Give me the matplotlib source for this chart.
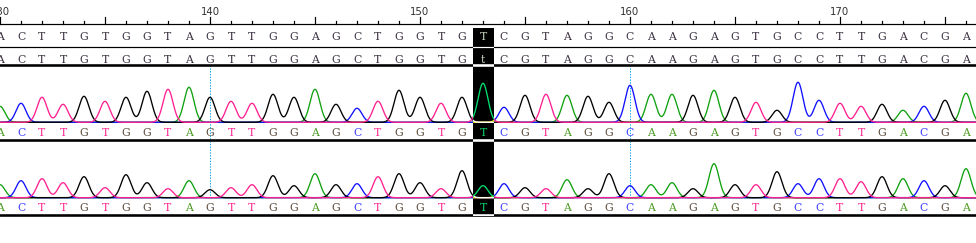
import numpy as np
import matplotlib
matplotlib.use("Agg")
import matplotlib.pyplot as plt
from matplotlib.patches import Rectangle
from matplotlib.colors import to_rgb

# ---- sequence data -------------------------------------------------------
positions = list(range(130, 177))
reference_bases = list("ACTTGTGGTAGTTGGAGCTGGTGTCGTAGGCAAGAGTGCCTTGACGA")
sample_bases = list("ACTTGTGGTAGTTGGAGCTGGTGtCGTAGGCAAGAGTGCCTTGACGA")
ruler_labels = [130, 140, 150, 160, 170]
marked_positions = [140, 160]
highlight_position = 153

# peak heights (signal units) of the called base at each position
trace1_heights = [16, 19, 25, 18, 26, 21, 25, 31, 33, 35, 25, 21, 19, 28, 25, 33,
                  18, 14, 21, 32, 25, 19, 25, 39, 15, 27, 28, 27, 26, 20, 37, 28,
                  28, 27, 32, 25, 20, 12, 40, 22, 19, 16, 18, 12, 16, 22, 29]
trace2_heights = [13, 17, 19, 15, 21, 10, 23, 15, 9, 17, 8, 10, 13, 22, 12, 24,
                  13, 14, 21, 24, 15, 9, 27, 12, 14, 10, 9, 18, 9, 24, 12, 13,
                  15, 9, 34, 13, 13, 26, 14, 19, 19, 16, 21, 19, 17, 12, 29]

base_colors = {"A": "#10a010", "C": "#1010ff", "G": "#000000", "T": "#ff2090"}
letter_colors = {"A": "#4a9a20", "C": "#3a3aff", "G": "#5a4a3a", "T": "#ff2a95"}
channel_order = ["A", "C", "G", "T"]

PX_PER_BASE = 21
W, H = 976, 243

fig = plt.figure(figsize=(W / 100, H / 100), dpi=100)
ax = fig.add_axes([0, 0, 1, 1])
x0 = positions[0]
ax.set_xlim(x0, x0 + W / PX_PER_BASE)
ax.set_ylim(H, 0)
ax.axis("off")

SEQ_FONT = "DejaVu Serif"
SEQ_SIZE = 7.8
LW_PX = 0.72  # one pixel in points
SEQ_COLOR = "#3a3040"


def identity(c):
    return c


def inv(c):
    r, g, b = to_rgb(c)
    return (1 - r, 1 - g, 1 - b)


sigma = 0.235
xs = np.arange(x0 - 1, x0 + W / PX_PER_BASE + 1, 0.01)


def clip_all(arts, clip, z):
    if clip is None:
        return
    for a in arts:
        a.set_clip_path(clip)
        a.set_zorder(z)


def draw_trace(baseline_y, heights, letter_y, rule_y, colmap, clip):
    arts = []
    for ch in channel_order:
        sig = np.zeros_like(xs)
        for p, b, h in zip(positions, reference_bases, heights):
            if b == ch:
                sig += h * np.exp(-0.5 * ((xs - p) / sigma) ** 2)
        arts += ax.plot(xs, baseline_y - sig, color=colmap(base_colors[ch]),
                        lw=0.95, solid_joinstyle="miter")
    arts += ax.plot([x0 - 1, x0 + 50], [rule_y, rule_y], color=colmap("black"),
                    lw=2.6 * LW_PX, solid_capstyle="butt")
    clip_all(arts, clip, 4)
    for p, b in zip(positions, reference_bases):
        if clip is not None and p != highlight_position:
            continue
        ax.text(p, letter_y, b, ha="center", va="baseline", family=SEQ_FONT,
                fontsize=SEQ_SIZE, color=colmap(letter_colors[b]),
                zorder=5 if clip is not None else 3)


def draw_layer(colmap, clip=None):
    arts = []
    arts += ax.plot([x0 - 1, x0 + 50], [47.3, 47.3], color=colmap("black"),
                    lw=LW_PX * 1.2)
    arts += ax.plot([x0 - 1, x0 + 50], [64.7, 64.7], color=colmap("black"),
                    lw=2.6 * LW_PX, solid_capstyle="butt")
    clip_all(arts, clip, 4)
    # consensus rows
    for row_y, seq in ((40, reference_bases), (63, sample_bases)):
        for p, b in zip(positions, seq):
            if clip is not None and p != highlight_position:
                continue
            ax.text(p, row_y, b, ha="center", va="baseline", family=SEQ_FONT,
                    fontsize=SEQ_SIZE, color=colmap(SEQ_COLOR),
                    zorder=5 if clip is not None else 3)
    draw_trace(122.3, trace1_heights, 136, 140.3, colmap, clip)
    draw_trace(197.7, trace2_heights, 211, 214.5, colmap, clip)


# ruler
ax.plot([x0 - 1, x0 + 50], [24, 24], color="black", lw=LW_PX * 1.2)
for p in positions + [177]:
    top = 16.7 if p % 5 == 0 else 21
    ax.plot([p, p], [top, 24], color="black", lw=LW_PX * 1.2)
for p in ruler_labels:
    ax.text(p, 14.7, str(p), ha="center", va="baseline", fontsize=7.3,
            color="#303030", family="DejaVu Sans")

# position markers
for p in marked_positions:
    ax.plot([p, p], [65.5, 197], color="#10a8f0", lw=LW_PX,
            linestyle=(0, (1.4, 1.4)))

draw_layer(identity)

# highlighted column shown in inverted colours
box_top, box_bottom = 28.3, 216
box = Rectangle((highlight_position - 0.5, box_top), 1.0, box_bottom - box_top,
                facecolor="black", edgecolor="none", zorder=3.5)
ax.add_patch(box)
clip_rect = Rectangle((highlight_position - 0.5, box_top), 1.0,
                      box_bottom - box_top, transform=ax.transData,
                      facecolor="none", edgecolor="none")
ax.add_patch(clip_rect)
clip_rect.set_visible(False)
draw_layer(inv, clip_rect)

fig.savefig("out.png", dpi=100)
